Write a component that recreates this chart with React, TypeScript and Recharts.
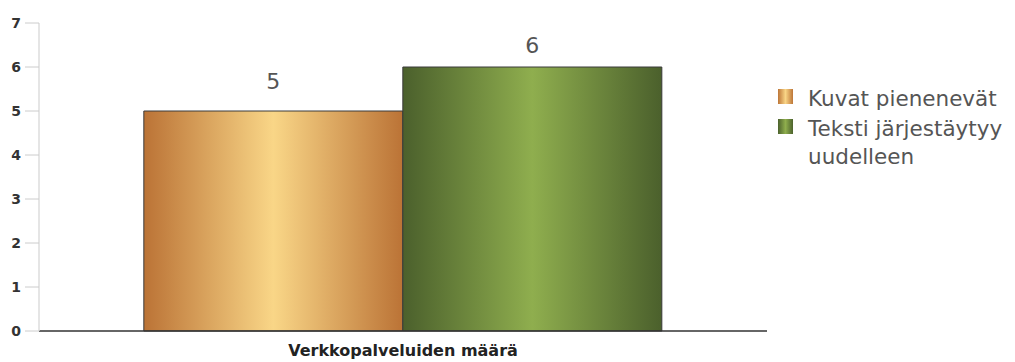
import { BarChart, Bar, XAxis, YAxis, LabelList } from 'recharts'

const categories = ['Verkkopalveluiden määrä']
const kuvatValues = [5]
const tekstiValues = [6]
const yTicks = [0, 1, 2, 3, 4, 5, 6, 7]

const seriesNames = ['Kuvat pienenevät', 'Teksti järjestäytyy uudelleen']

const chartData = categories.map((name, i) => ({
  name,
  kuvat: kuvatValues[i],
  teksti: tekstiValues[i],
}))

const FONT = '"DejaVu Sans", Verdana, sans-serif'

const legendItems = [
  { label: seriesNames[0], swatch: 'linear-gradient(to right, #bd7638, #f9d586, #bd7638)' },
  { label: seriesNames[1], swatch: 'linear-gradient(to right, #4c622d, #8fae4d, #4c622d)' },
]

export default function App() {
  return (
    <div style={{ position: 'absolute', left: 0, top: 0, width: 1015, height: 362, background: '#fff', overflow: 'hidden' }}>
      <BarChart
        width={1015}
        height={362}
        data={chartData}
        margin={{ top: 23, right: 248, bottom: 0, left: 0 }}
        barCategoryGap="14.4%"
        barGap={0}
      >
        <defs>
          <linearGradient id="gradOrange" x1="0" y1="0" x2="1" y2="0">
            <stop offset="0%" stopColor="#bb7336" />
            <stop offset="50%" stopColor="#f9d687" />
            <stop offset="100%" stopColor="#bb7336" />
          </linearGradient>
          <linearGradient id="gradGreen" x1="0" y1="0" x2="1" y2="0">
            <stop offset="0%" stopColor="#4b602c" />
            <stop offset="50%" stopColor="#8fae4e" />
            <stop offset="100%" stopColor="#4b602c" />
          </linearGradient>
        </defs>
        <XAxis
          dataKey="name"
          height={31}
          axisLine={{ stroke: '#333', strokeWidth: 1.5 }}
          tickLine={false}
          tickSize={0}
          tickMargin={14}
          tick={{ fontSize: 16, fontWeight: 'bold', fill: '#222', fontFamily: FONT }}
        />
        <YAxis
          width={39}
          domain={[0, 7]}
          ticks={yTicks}
          interval={0}
          tickSize={14}
          tickMargin={4}
          axisLine={{ stroke: '#ddd', strokeWidth: 1.5 }}
          tickLine={{ stroke: '#ccc' }}
          tick={{ fontSize: 14, fontWeight: 'bold', fill: '#333', fontFamily: FONT }}
        />
        <Bar dataKey="kuvat" name={seriesNames[0]} fill="url(#gradOrange)" stroke="#3a3a3a" strokeWidth={1} isAnimationActive={false}>
          <LabelList dataKey="kuvat" position="top" offset={22} fill="#555" fontSize={22} fontFamily={FONT} />
        </Bar>
        <Bar dataKey="teksti" name={seriesNames[1]} fill="url(#gradGreen)" stroke="#3a3a3a" strokeWidth={1} isAnimationActive={false}>
          <LabelList dataKey="teksti" position="top" offset={14} fill="#555" fontSize={22} fontFamily={FONT} />
        </Bar>
      </BarChart>
      <div style={{ position: 'absolute', left: 778, top: 85, width: 237, fontFamily: FONT, fontSize: 21.5, color: '#555', lineHeight: '28px' }}>
        {legendItems.map((item) => (
          <div key={item.label} style={{ display: 'flex', alignItems: 'flex-start', marginBottom: 2 }}>
            <span style={{ display: 'inline-block', width: 15, height: 15, marginTop: 4, marginRight: 15, flexShrink: 0, background: item.swatch }} />
            <span>{item.label}</span>
          </div>
        ))}
      </div>
    </div>
  )
}
